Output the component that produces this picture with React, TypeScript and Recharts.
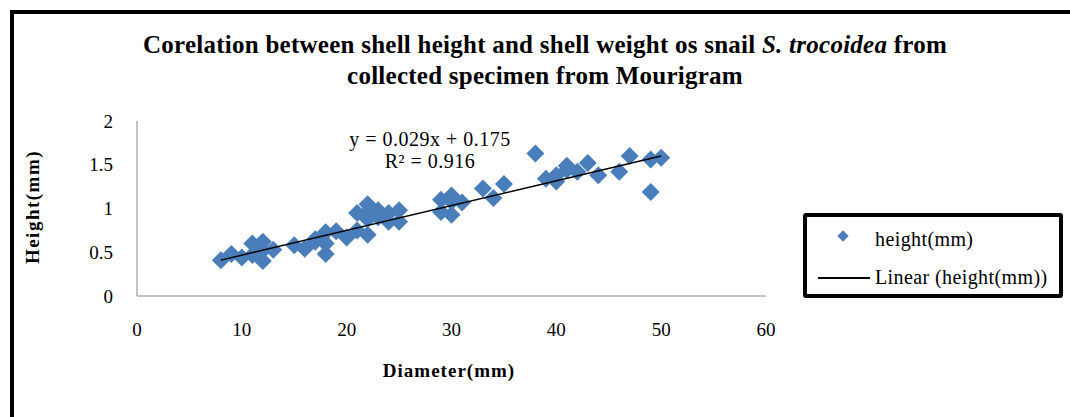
import { Scatter, ScatterChart, XAxis, YAxis } from 'recharts'

const diameters = [
  8, 9, 10, 11, 11, 12, 12, 12, 13, 15, 16, 17, 17, 18, 18, 18, 19, 20, 21, 21, 22, 22, 22, 22,
  23, 23, 24, 24, 25, 25, 29, 29, 30, 30, 30, 31, 33, 34, 35, 38, 39, 40, 40, 41, 41, 42, 43,
  44, 46, 47, 49, 49, 50,
]
const heights = [
  0.41, 0.48, 0.44, 0.6, 0.47, 0.62, 0.4, 0.52, 0.53, 0.58, 0.54, 0.62, 0.65, 0.73, 0.48, 0.6,
  0.74, 0.67, 0.95, 0.75, 1.05, 0.7, 0.88, 0.96, 0.98, 0.9, 0.95, 0.85, 0.98, 0.85, 1.1, 0.96,
  1.15, 0.93, 1.08, 1.07, 1.23, 1.12, 1.28, 1.63, 1.34, 1.31, 1.38, 1.49, 1.44, 1.42, 1.52, 1.38,
  1.42, 1.6, 1.56, 1.19, 1.58,
]
const trendX = [8, 50]
const trendY = [0.41, 1.6]
const xTicks = [0, 10, 20, 30, 40, 50, 60]
const yTicks = [0, 0.5, 1, 1.5, 2]

const points = diameters.map((d, i) => ({ x: d, y: heights[i] }))
const trend = trendX.map((d, i) => ({ x: d, y: trendY[i] }))

const BLUE = '#4a7ebb'
const FONT = '"Liberation Serif", "Times New Roman", serif'

function Diamond(props: any) {
  const { cx, cy } = props
  const r = 9
  return <polygon points={`${cx},${cy - r} ${cx + r},${cy} ${cx},${cy + r} ${cx - r},${cy}`} fill={BLUE} />
}

export default function App() {
  return (
    <div
      style={{
        position: 'fixed',
        left: 0,
        top: 0,
        width: 1070,
        height: 417,
        overflow: 'hidden',
        background: '#fff',
        fontFamily: FONT,
      }}
    >
      {/* outer frame, cut off at right and bottom like the source */}
      <div
        style={{
          position: 'absolute',
          left: 10,
          top: 10,
          width: 1100,
          height: 450,
          border: '4px solid #000',
        }}
      />
      <div style={{ position: 'absolute', left: 0, top: 0 }}>
        <ScatterChart width={1070} height={417} margin={{ top: 121, right: 304, bottom: 91, left: 97 }}>
          <XAxis
            type="number"
            dataKey="x"
            domain={[0, 60]}
            ticks={xTicks}
            tickLine={false}
            tickMargin={21}
            axisLine={{ stroke: '#868686' }}
            tick={{ fontSize: 19, fill: '#000', fontFamily: FONT }}
            height={30}
          />
          <YAxis
            type="number"
            dataKey="y"
            domain={[0, 2]}
            ticks={yTicks}
            tickLine={false}
            tickMargin={18}
            axisLine={{ stroke: '#868686' }}
            tick={{ fontSize: 19, fill: '#000', fontFamily: FONT }}
            width={40}
          />
          <Scatter data={points} shape={<Diamond />} isAnimationActive={false} />
          <Scatter
            data={trend}
            line={{ stroke: '#000', strokeWidth: 1.5 }}
            shape={() => <g />}
            isAnimationActive={false}
          />
        </ScatterChart>
      </div>

      <div
        style={{
          position: 'absolute',
          left: 0,
          width: 1090,
          top: 29,
          textAlign: 'center',
          fontWeight: 'bold',
          fontSize: 25,
          letterSpacing: 0.25,
          lineHeight: '31px',
        }}
      >
        Corelation between shell height and shell weight os snail <i>S. trocoidea</i> from
        <br />
        collected specimen from Mourigram
      </div>

      <div
        style={{
          position: 'absolute',
          left: 330,
          width: 200,
          top: 128,
          textAlign: 'center',
          fontSize: 20,
          letterSpacing: 0.5,
          lineHeight: '22px',
        }}
      >
        y = 0.029x + 0.175
        <br />
        R² = 0.916
      </div>

      <div
        style={{
          position: 'absolute',
          left: 33,
          top: 207,
          transform: 'translate(-50%, -50%) rotate(-90deg)',
          fontWeight: 'bold',
          fontSize: 19,
          letterSpacing: 1.5,
          whiteSpace: 'nowrap',
        }}
      >
        Height(mm)
      </div>

      <div
        style={{
          position: 'absolute',
          left: 349,
          width: 200,
          top: 360,
          textAlign: 'center',
          fontWeight: 'bold',
          fontSize: 19,
          letterSpacing: 1,
        }}
      >
        Diameter(mm)
      </div>

      <div
        style={{
          position: 'absolute',
          left: 803,
          top: 213,
          width: 252,
          height: 77,
          border: '4px solid #000',
          borderRadius: 3,
          fontSize: 20,
          letterSpacing: 0.4,
        }}
      >
        <div style={{ position: 'absolute', left: 32, top: 15, width: 8, height: 8, background: BLUE, transform: 'rotate(45deg)' }} />
        <div style={{ position: 'absolute', left: 68, top: 11 }}>height(mm)</div>
        <div style={{ position: 'absolute', left: 11, top: 60, width: 52, height: 1.5, background: '#000' }} />
        <div style={{ position: 'absolute', left: 68, top: 49 }}>Linear (height(mm))</div>
      </div>
    </div>
  )
}
